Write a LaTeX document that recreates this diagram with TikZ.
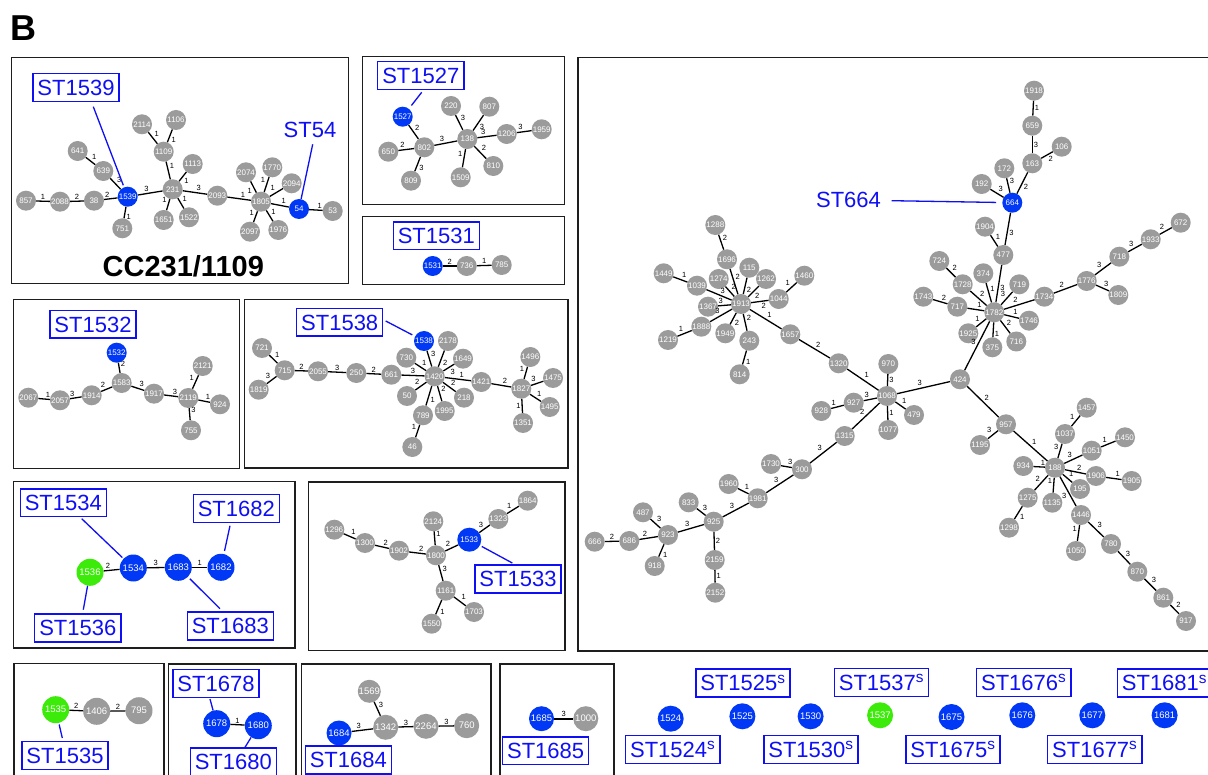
\documentclass[tikz,border=0pt]{standalone}
\usepackage{fontspec}
\setmainfont{Liberation Sans}
\definecolor{ngray}{RGB}{155,155,155}
\definecolor{nblue}{RGB}{0,56,245}
\definecolor{ngreen}{RGB}{60,235,10}
\definecolor{lblue}{RGB}{15,15,245}
\definecolor{pborder}{RGB}{30,30,30}
\newcommand\fST{\fontsize{22}{24}\selectfont}
\newcommand\fN{\fontsize{8}{8}\selectfont}
\newcommand\fNb{\fontsize{9.5}{10}\selectfont}
\newcommand\fW{\fontsize{7.5}{8}\selectfont}
\newcommand\nd[4]{\node[#1] (n#2) at (#3,#4) {#2};}
\newcommand\ed[3]{\draw[lnk] (n#1) -- node[wl] {#3} (n#2);}
\tikzset{
  panel/.style={draw=pborder, line width=1.4pt},
  gy/.style={circle, fill=ngray, text=white, inner sep=0pt, minimum size=20pt, font=\fN},
  bl/.style={gy, fill=nblue},
  gr/.style={gy, fill=ngreen},
  big/.style={minimum size=27pt, font=\fNb},
  lnk/.style={line width=1.3pt, black},
  wl/.style={auto, font=\fW, inner sep=1pt, text=black},
  stl/.style={draw=lblue, line width=1.4pt, text=lblue, font=\fST, inner xsep=4.5pt, inner ysep=6pt, text height=15.8pt, text depth=0pt},
  stt/.style={text=lblue, font=\fST, inner sep=0pt},
  lead/.style={draw=lblue, line width=1.3pt},
}
\begin{document}
\begin{tikzpicture}[x=1pt,y=-1pt]
\useasboundingbox (0,0) rectangle (1208,775);
\clip (0,0) rectangle (1208,775);
\fill[white] (0,0) rectangle (1208,775);
\node[font=\fontsize{36}{36}\selectfont\bfseries] (B) at (23,28) {B};
% panels
\draw[panel] (11.5,57.5) rectangle (348.5,283.5);
\draw[panel] (362.5,56.5) rectangle (564.5,204.5);
\draw[panel] (362.5,216.5) rectangle (564.5,284.5);
\draw[panel] (13.5,299.5) rectangle (239.5,468.5);
\draw[panel] (244.5,299.5) rectangle (568,468);
\draw[panel] (13.5,481.5) rectangle (295,648);
\draw[panel] (308.5,482) rectangle (565,650.5);
\draw[panel] (578,57.5) rectangle (1215,651);
\draw[panel] (14,663.5) rectangle (164,790);
\draw[panel] (168.5,664) rectangle (296,790);
\draw[panel] (301.5,664) rectangle (491,790);
\draw[panel] (500,664) rectangle (614,790);

% ===== CC231/1109 =====
\nd{gy}{857}{26}{200.7}
\nd{gy}{2088}{60}{201.7}
\nd{gy}{38}{94}{200.7}
\nd{bl}{1539}{127.7}{196.7}
\nd{gy}{639}{103.3}{171}
\nd{gy}{641}{77.7}{151}
\nd{gy}{751}{122.3}{228.3}
\nd{gy}{231}{172.7}{189.3}
\nd{gy}{1109}{163.7}{151.7}
\nd{gy}{2114}{142}{124.3}
\nd{gy}{1106}{176}{120}
\nd{gy}{1113}{192.7}{164}
\nd{gy}{1651}{163.7}{220}
\nd{gy}{1522}{189}{217.3}
\nd{gy}{2093}{217.3}{195.7}
\nd{gy}{1805}{261}{201.7}
\nd{gy}{2074}{246}{172.3}
\nd{gy}{1770}{272.3}{167.3}
\nd{gy}{2094}{291.7}{183.3}
\nd{gy}{2097}{250}{231.7}
\nd{gy}{1976}{278.3}{230}
\nd{bl}{54}{299}{209}
\nd{gy}{53}{332.7}{211}
\ed{857}{2088}{1}
\ed{2088}{38}{2}
\ed{38}{1539}{2}
\ed{639}{1539}{3}
\ed{641}{639}{1}
\ed{1539}{751}{1}
\ed{1539}{231}{3}
\ed{1109}{231}{1}
\ed{2114}{1109}{1}
\ed{1106}{1109}{1}
\ed{1113}{231}{1}
\ed{1651}{231}{1}
\ed{231}{1522}{1}
\ed{231}{2093}{3}
\ed{2093}{1805}{1}
\ed{1805}{2074}{1}
\ed{1805}{1770}{1}
\ed{1805}{2094}{1}
\ed{2097}{1805}{1}
\ed{1805}{1976}{1}
\ed{1805}{54}{1}
\ed{54}{53}{1}
\node[stl] (L1539) at (76,87.5) {ST1539};
\coordinate (c1539) at (93.3,106.7);
\draw[lead, shorten >=2pt] (c1539) -- (n1539);
\node[stt] (L54) at (310,130) {ST54};
\coordinate (c54) at (312.7,144.3);
\draw[lead] (c54) -- (n54);
\node[font=\fontsize{29}{30}\selectfont\bfseries] (cc) at (183.3,266.7) {CC231/1109};

% ===== ST1527 =====
\nd{bl}{1527}{402.7}{116.7}
\nd{gy}{802}{424.3}{147.3}
\nd{gy}{650}{388.3}{151.7}
\nd{gy}{809}{411}{180.7}
\nd{gy}{138}{467.3}{139}
\nd{gy}{220}{451}{106}
\nd{gy}{807}{489.3}{106.7}
\nd{gy}{1206}{506.7}{134}
\nd{gy}{1959}{541.7}{129.3}
\nd{gy}{810}{493.3}{166}
\nd{gy}{1509}{460.7}{177.3}
\ed{1527}{802}{2}
\ed{650}{802}{2}
\ed{802}{809}{3}
\ed{802}{138}{3}
\ed{220}{138}{3}
\ed{807}{138}{3}
\ed{138}{1206}{3}
\ed{1206}{1959}{3}
\ed{138}{810}{2}
\ed{1509}{138}{1}
\node[stl] (L1527) at (420.8,75.5) {ST1527};
\coordinate (c1527) at (421.7,92.3);
\draw[lead, shorten >=4pt] (c1527) -- (n1527);

% ===== ST1531 =====
\nd{bl}{1531}{432.7}{266}
\nd{gy}{736}{466.7}{266}
\nd{gy}{785}{501.7}{265}
\ed{1531}{736}{2}
\ed{736}{785}{1}
\node[stl] (L1531) at (436.3,235.8) {ST1531};

% ===== ST1532 =====
\nd{bl}{1532}{116.7}{352.7}
\nd{gy}{1583}{121.7}{383}
\nd{gy}{1914}{91.7}{395.3}
\nd{gy}{2057}{60}{400.3}
\nd{gy}{2067}{28.3}{397.7}
\nd{gy}{1917}{154}{393.7}
\nd{gy}{2119}{188.3}{398}
\nd{gy}{2121}{202.7}{366}
\nd{gy}{924}{220}{404.3}
\nd{gy}{755}{191}{430.3}
\ed{1532}{1583}{2}
\ed{1914}{1583}{2}
\ed{2057}{1914}{3}
\ed{2067}{2057}{1}
\ed{1583}{1917}{3}
\ed{1917}{2119}{3}
\ed{2119}{2121}{1}
\ed{2119}{924}{1}
\ed{2119}{755}{3}
\node[stl] (L1532) at (93,324.2) {ST1532};

% ===== ST1538 =====
\nd{bl}{1538}{424}{341}
\nd{gy}{2178}{448}{341}
\nd{gy}{1649}{463}{358.7}
\nd{gy}{730}{406.3}{357.7}
\nd{gy}{1420}{434.7}{376.3}
\nd{gy}{661}{391.3}{374.7}
\nd{gy}{250}{356.3}{373}
\nd{gy}{2055}{318}{371.3}
\nd{gy}{715}{284.7}{370.3}
\nd{gy}{721}{262}{348}
\nd{gy}{1819}{258.7}{389.7}
\nd{gy}{50}{407}{396}
\nd{gy}{789}{423}{415.3}
\nd{gy}{46}{412.3}{447}
\nd{gy}{1995}{444.7}{411}
\nd{gy}{218}{464}{397.7}
\nd{gy}{1421}{481.3}{382}
\nd{gy}{1827}{521.3}{388.7}
\nd{gy}{1496}{530.3}{357}
\nd{gy}{1475}{553}{378}
\nd{gy}{1495}{549.7}{407}
\nd{gy}{1351}{523}{423}
\ed{1538}{1420}{3}
\ed{2178}{1420}{2}
\ed{1649}{1420}{3}
\ed{730}{1420}{1}
\ed{661}{1420}{3}
\ed{250}{661}{2}
\ed{2055}{250}{3}
\ed{715}{2055}{2}
\ed{721}{715}{1}
\ed{1819}{715}{3}
\ed{50}{1420}{2}
\ed{1420}{789}{1}
\ed{46}{789}{1}
\ed{1420}{1995}{2}
\ed{1420}{218}{2}
\ed{1420}{1421}{1}
\ed{1421}{1827}{2}
\ed{1827}{1496}{1}
\ed{1827}{1475}{3}
\ed{1827}{1495}{1}
\ed{1351}{1827}{1}
\node[stl] (L1538) at (339.7,322.3) {ST1538};
\coordinate (c1538) at (385.7,321);
\draw[lead, shorten >=3pt] (c1538) -- (n1538);

% ===== ST1534 box =====
\nd{gr,big}{1536}{90}{572.3}
\nd{bl,big}{1534}{133.3}{568}
\nd{bl,big}{1683}{178.3}{567.3}
\nd{bl,big}{1682}{221}{567.3}
\ed{1536}{1534}{2}
\ed{1534}{1683}{3}
\ed{1683}{1682}{1}
\node[stl] (L1534) at (63.3,502.7) {ST1534};
\node[stl] (L1682) at (236.3,508.5) {ST1682};
\node[stl] (L1536) at (77.8,628) {ST1536};
\node[stl] (L1683) at (230.3,626) {ST1683};
\coordinate (c1534) at (81.7,518.7);
\coordinate (c1682) at (230,525.7);
\coordinate (c1536) at (83.3,609.7);
\coordinate (c1683) at (220,608.7);
\draw[lead, shorten >=1.5pt] (c1534) -- (n1534);
\draw[lead, shorten >=3pt] (c1682) -- (n1682);
\draw[lead] (c1536) -- (n1536);
\draw[lead, shorten >=2.5pt] (c1683) -- (n1683);

% ===== ST1533 box =====
\nd{gy}{1296}{334.3}{529.7}
\nd{gy}{1300}{365}{543}
\nd{gy}{1902}{399}{550.7}
\nd{gy}{1800}{436}{555.3}
\nd{gy}{2124}{433.3}{521.3}
\nd{bl,minimum size=24pt}{1533}{469.3}{539.7}
\nd{gy}{1323}{498.3}{519}
\nd{gy}{1864}{527.7}{500.7}
\nd{gy}{1161}{445.7}{590.7}
\nd{gy}{1703}{474}{612}
\nd{gy}{1550}{431.7}{623.7}
\ed{1296}{1300}{1}
\ed{1300}{1902}{2}
\ed{1902}{1800}{2}
\ed{2124}{1800}{1}
\ed{1800}{1533}{2}
\ed{1533}{1323}{3}
\ed{1323}{1864}{1}
\ed{1800}{1161}{3}
\ed{1161}{1703}{1}
\ed{1161}{1550}{1}
\node[stl] (L1533) at (518,579) {ST1533};
\coordinate (c1533) at (512.3,563);
\draw[lead, shorten >=2pt] (c1533) -- (n1533);

% ===== big panel =====
\nd{gy}{1288}{715.3}{225}
\nd{gy}{1696}{727}{259.3}
\nd{gy}{115}{749.3}{267.7}
\nd{gy}{1274}{718.7}{279}
\nd{gy}{1262}{766}{279}
\nd{gy}{1460}{804.3}{275.7}
\nd{gy}{1449}{663.7}{273.3}
\nd{gy}{1039}{697}{285.7}
\nd{gy}{1913}{741}{304}
\nd{gy}{1044}{778.7}{299}
\nd{gy}{1367}{708}{306.7}
\nd{gy}{1888}{701.3}{326.7}
\nd{gy}{1219}{668}{340}
\nd{gy}{1949}{725.3}{333.3}
\nd{gy}{243}{749.3}{340.7}
\nd{gy}{1657}{790.3}{334.3}
\nd{gy}{814}{739.7}{374.3}
\nd{gy}{1320}{838.7}{363.3}
\nd{gy}{1068}{887}{396}
\nd{gy}{970}{888.3}{364}
\nd{gy}{479}{914}{415}
\nd{gy}{1077}{888.3}{430}
\nd{gy}{927}{853.7}{402.7}
\nd{gy}{928}{821.3}{411}
\nd{gy}{1315}{844.7}{436}
\nd{gy}{300}{802}{469.3}
\nd{gy}{1730}{771}{464}
\nd{gy}{1981}{757.7}{498.3}
\nd{gy}{1960}{728.7}{484}
\nd{gy}{925}{713.7}{521.7}
\nd{gy}{833}{688.7}{502.3}
\nd{gy}{923}{668}{535}
\nd{gy}{487}{643}{512.3}
\nd{gy}{686}{629.3}{541}
\nd{gy}{666}{594.7}{541.7}
\nd{gy}{918}{654.7}{566}
\nd{gy}{2159}{714.7}{560}
\nd{gy}{2152}{715.3}{592.7}
\nd{gy}{424}{960}{379.3}
\nd{gy}{957}{1006}{424.3}
\nd{gy}{1195}{980}{445}
\nd{gy}{188}{1055}{467.7}
\nd{gy}{934}{1023.3}{466}
\nd{gy}{1037}{1065}{434}
\nd{gy}{1457}{1086.7}{407.7}
\nd{gy}{1051}{1091.7}{450.7}
\nd{gy}{1450}{1125}{437.3}
\nd{gy}{1906}{1096}{476}
\nd{gy}{1905}{1131.7}{481}
\nd{gy}{195}{1080}{489}
\nd{gy}{1135}{1052.3}{502.7}
\nd{gy}{1275}{1027.7}{497.7}
\nd{gy}{1298}{1009}{527.7}
\nd{gy}{1446}{1081}{515}
\nd{gy}{1050}{1076}{551}
\nd{gy}{780}{1111}{544}
\nd{gy}{870}{1137.3}{571.7}
\nd{gy}{861}{1163.3}{597.7}
\nd{gy}{917}{1186}{621}
\nd{gy}{1918}{1034}{90.7}
\nd{gy}{659}{1032.3}{125.7}
\nd{gy}{163}{1032.3}{163.3}
\nd{gy}{106}{1061.7}{146.7}
\nd{gy}{172}{1004.3}{168.3}
\nd{gy}{192}{981.7}{184}
\nd{bl}{664}{1012.3}{202.7}
\nd{gy}{1904}{985}{226.7}
\nd{gy}{477}{1003.3}{255}
\nd{gy}{724}{939.3}{261}
\nd{gy}{1728}{962.7}{284.3}
\nd{gy}{374}{983.3}{273.3}
\nd{gy}{719}{1019.3}{284.3}
\nd{gy}{1743}{923.3}{296.7}
\nd{gy}{717}{957.3}{306.7}
\nd{gy}{1782}{994.3}{312.3}
\nd{gy}{1734}{1044.3}{296.7}
\nd{gy}{1776}{1086.7}{281}
\nd{gy}{718}{1119.3}{256.7}
\nd{gy}{1933}{1150.7}{239.3}
\nd{gy}{672}{1180.7}{222.7}
\nd{gy}{1809}{1118.3}{295}
\nd{gy}{1746}{1029}{320.7}
\nd{gy}{1925}{968.3}{333.3}
\nd{gy}{375}{992.3}{347.3}
\nd{gy}{716}{1016.3}{341.5}
\ed{1288}{1696}{2}
\ed{1696}{1913}{2}
\ed{115}{1913}{2}
\ed{1274}{1913}{2}
\ed{1262}{1913}{2}
\ed{1044}{1913}{2}
\ed{1044}{1460}{1}
\ed{1039}{1913}{3}
\ed{1449}{1039}{1}
\ed{1367}{1913}{3}
\ed{1888}{1913}{3}
\ed{1219}{1888}{1}
\ed{1913}{1949}{2}
\ed{1913}{243}{2}
\ed{1913}{1657}{1}
\ed{1657}{1320}{2}
\ed{243}{814}{1}
\ed{1320}{1068}{1}
\ed{927}{1068}{3}
\ed{928}{927}{1}
\ed{1315}{1068}{2}
\ed{300}{1315}{3}
\ed{1730}{300}{3}
\ed{1981}{300}{3}
\ed{1960}{1981}{1}
\ed{925}{1981}{3}
\ed{833}{925}{3}
\ed{923}{925}{3}
\ed{487}{923}{3}
\ed{686}{923}{2}
\ed{666}{686}{2}
\ed{923}{918}{1}
\ed{925}{2159}{2}
\ed{2159}{2152}{1}
\ed{970}{1068}{3}
\ed{1068}{479}{1}
\ed{1068}{1077}{1}
\ed{1068}{424}{3}
\ed{424}{1782}{3}
\ed{424}{957}{2}
\ed{1195}{957}{3}
\ed{957}{188}{1}
\ed{934}{188}{1}
\ed{188}{1037}{3}
\ed{1037}{1457}{1}
\ed{188}{1051}{3}
\ed{1051}{1450}{1}
\ed{188}{1906}{2}
\ed{1906}{1905}{1}
\ed{188}{195}{1}
\ed{1135}{188}{1}
\ed{1275}{188}{2}
\ed{1275}{1298}{1}
\ed{1446}{188}{3}
\ed{1050}{1446}{1}
\ed{1446}{780}{3}
\ed{780}{870}{3}
\ed{870}{861}{3}
\ed{861}{917}{2}
\ed{1918}{659}{1}
\ed{659}{163}{3}
\ed{106}{163}{2}
\ed{163}{664}{2}
\ed{172}{664}{3}
\ed{192}{664}{3}
\ed{664}{477}{3}
\ed{1904}{477}{1}
\ed{477}{1782}{3}
\ed{724}{1728}{2}
\ed{1728}{1782}{2}
\ed{374}{1782}{1}
\ed{1782}{719}{3}
\ed{1743}{717}{2}
\ed{717}{1782}{1}
\ed{1782}{1734}{2}
\ed{1734}{1776}{2}
\ed{1776}{718}{3}
\ed{718}{1933}{3}
\ed{1933}{672}{2}
\ed{1776}{1809}{3}
\ed{1782}{1746}{1}
\ed{1925}{1782}{1}
\ed{1782}{375}{1}
\ed{1782}{716}{2}
\node[stt] (L664) at (848.5,200) {ST664};
\coordinate (c664) at (891.7,200.7);
\draw[lead, shorten >=6pt] (c664) -- (n664);

% ===== bottom row =====
\nd{gr,big}{1535}{55.7}{709.7}
\nd{gy,big}{1406}{96.7}{711.3}
\nd{gy,big}{795}{139}{710.7}
\ed{1535}{1406}{2}
\ed{1406}{795}{2}
\node[stl] (L1535) at (65,755.5) {ST1535};
\coordinate (c1535) at (62.3,738);
\draw[lead, shorten >=1.5pt] (c1535) -- (n1535);

\nd{bl,big}{1678}{216.7}{723.7}
\nd{bl,big}{1680}{258.3}{725.7}
\ed{1678}{1680}{1}
\node[stl] (L1678) at (216,683.5) {ST1678};
\node[stl] (L1680) at (233.3,762) {ST1680};
\coordinate (c1678) at (210,699);
\coordinate (c1680) at (245,747.3);
\draw[lead] (c1678) -- (n1678);
\draw[lead] (c1680) -- (n1680);

\nd{gy,big,minimum size=23pt}{1569}{369.3}{691.3}
\nd{gy,big,minimum size=25pt}{1342}{385.7}{727.3}
\nd{bl,big,minimum size=25pt}{1684}{339}{733}
\nd{gy,big,minimum size=25pt}{2264}{426}{726.3}
\nd{gy,big,minimum size=25pt}{760}{466.7}{725.7}
\ed{1569}{1342}{3}
\ed{1684}{1342}{3}
\ed{1342}{2264}{3}
\ed{2264}{760}{3}
\node[stl] (L1684) at (348.3,760) {ST1684};

\nd{bl,big,minimum size=25pt}{1685}{541.5}{718.7}
\nd{gy,big,minimum size=25pt}{1000}{585.8}{718.7}
\draw[lnk, line width=2pt] (n1685) -- node[wl] {3} (n1000);
\node[stl] (L1685) at (545.6,750.8) {ST1685};

\nd{bl,big,minimum size=26pt}{1524}{670.7}{718.7}
\nd{bl,big,minimum size=26pt}{1525}{742.4}{716.3}
\nd{bl,big,minimum size=26pt}{1530}{810.6}{716.3}
\nd{gr,big,minimum size=26pt}{1537}{880.1}{715.3}
\nd{bl,big,minimum size=26pt}{1675}{951.5}{717}
\nd{bl,big,minimum size=26pt}{1676}{1022.3}{715.3}
\nd{bl,big,minimum size=26pt}{1677}{1092.3}{715.3}
\nd{bl,big,minimum size=26pt}{1681}{1164.6}{715.3}
\node[stl] (L1525) at (743,683) {ST1525\textsuperscript{s}};
\node[stl] (L1537) at (881.5,682.5) {ST1537\textsuperscript{s}};
\node[stl] (L1676) at (1023.7,682.5) {ST1676\textsuperscript{s}};
\node[stl] (L1681) at (1164.5,683) {ST1681\textsuperscript{s}};
\node[stl] (L1524) at (672.7,749.3) {ST1524\textsuperscript{s}};
\node[stl] (L1530) at (811,749.3) {ST1530\textsuperscript{s}};
\node[stl] (L1675) at (953,749.3) {ST1675\textsuperscript{s}};
\node[stl] (L1677) at (1094.8,749.3) {ST1677\textsuperscript{s}};
\end{tikzpicture}
\end{document}
